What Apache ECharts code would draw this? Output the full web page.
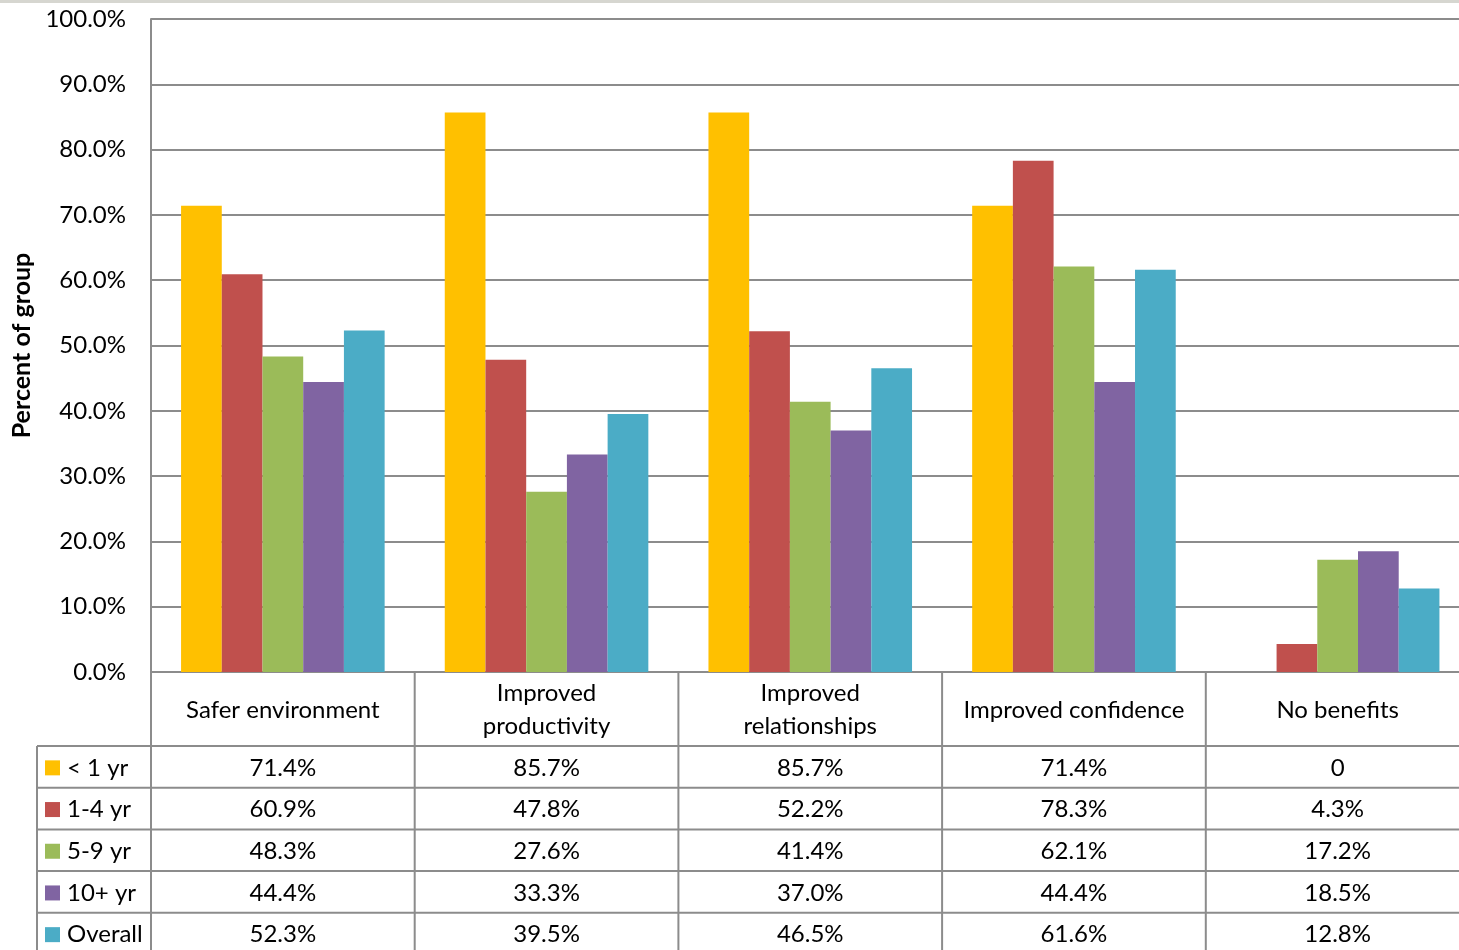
<!DOCTYPE html>
<html>
<head>
<meta charset="utf-8">
<script src="https://cdn.jsdelivr.net/npm/echarts@6/dist/echarts.min.js"></script>
<style>
html,body{margin:0;padding:0;overflow:hidden;background:#fff;}
#c{width:1470px;height:950px;}
</style>
</head>
<body>
<div id="c"></div>
<script>
var categories = ['Safer environment', 'Improved\nproductivity', 'Improved\nrelationships', 'Improved confidence', 'No benefits'];
var seriesNames = ['< 1 yr', '1-4 yr', '5-9 yr', '10+ yr', 'Overall'];
var lt1 = [71.4, 85.7, 85.7, 71.4, 0];
var y1to4 = [60.9, 47.8, 52.2, 78.3, 4.3];
var y5to9 = [48.3, 27.6, 41.4, 62.1, 17.2];
var y10p = [44.4, 33.3, 37.0, 44.4, 18.5];
var overall = [52.3, 39.5, 46.5, 61.6, 12.8];
var tableLabels = [
  ['71.4%', '85.7%', '85.7%', '71.4%', '0'],
  ['60.9%', '47.8%', '52.2%', '78.3%', '4.3%'],
  ['48.3%', '27.6%', '41.4%', '62.1%', '17.2%'],
  ['44.4%', '33.3%', '37.0%', '44.4%', '18.5%'],
  ['52.3%', '39.5%', '46.5%', '61.6%', '12.8%']
];
var colors = ['#FFC000', '#C0504D', '#9BBB59', '#8064A2', '#4BACC6'];
var allData = [lt1, y1to4, y5to9, y10p, overall];

var FONT = 'Lato';
var FS = 24;
var LINE = '#8c8c8c';
var chart = echarts.init(document.getElementById('c'), null, {renderer: 'canvas'});

var gridTop = 19, gridLeft = 151, gridH = 653, gridW = 1318.5;
var option = {
  animation: false,
  color: colors,
  textStyle: {fontFamily: FONT},
  grid: {left: gridLeft, top: gridTop, width: gridW, height: gridH, containLabel: false, outerBoundsMode: 'none'},
  xAxis: {
    type: 'category',
    data: categories,
    axisLine: {show: true, lineStyle: {color: LINE, width: 2}},
    axisTick: {show: false},
    axisLabel: {show: false}
  },
  yAxis: {
    type: 'value',
    min: 0, max: 100, interval: 10,
    name: 'Percent of group',
    nameLocation: 'middle',
    nameGap: 115,
    nameRotate: 90,
    nameTextStyle: {fontFamily: FONT, fontSize: 25, fontWeight: 'bold', color: '#000'},
    axisLine: {show: true, lineStyle: {color: LINE, width: 2}},
    axisTick: {show: false},
    axisLabel: {
      fontFamily: FONT, fontSize: FS, color: '#000', margin: 25,
      formatter: function (v) { return v.toFixed(1) + '%'; }
    },
    splitLine: {show: true, lineStyle: {color: LINE, width: 2}}
  },
  series: seriesNames.map(function (n, i) {
    return {
      name: n, type: 'bar', data: allData[i],
      barGap: '0%', barCategoryGap: '22.8%',
      itemStyle: {color: colors[i]}
    };
  })
};
chart.setOption(option);

function buildTable() {
  var g = [];
  var c0 = chart.convertToPixel({xAxisIndex: 0}, 0);
  var c1 = chart.convertToPixel({xAxisIndex: 0}, 1);
  var band = c1 - c0;
  var axisY = chart.convertToPixel({yAxisIndex: 0}, 0);
  var headerBottom = 746;
  var rowH = 41.7;
  var legendLeft = 37;
  var rightEdge = 1470;
  var bottom = 960;
  g.push({type: 'rect', shape: {x: 0, y: 0, width: rightEdge, height: 3}, style: {fill: '#d6d6d0'}, z: 50});
  for (var i = 0; i <= categories.length; i++) {
    var x = c0 - band / 2 + i * band;
    g.push({type: 'line', shape: {x1: x, y1: axisY, x2: x, y2: bottom}, style: {stroke: LINE, lineWidth: 2}, z: 10});
  }
  g.push({type: 'line', shape: {x1: legendLeft, y1: headerBottom, x2: legendLeft, y2: bottom}, style: {stroke: LINE, lineWidth: 2}, z: 10});
  for (var r = 0; r <= seriesNames.length; r++) {
    var y = headerBottom + r * rowH;
    g.push({type: 'line', shape: {x1: legendLeft, y1: y, x2: rightEdge, y2: y}, style: {stroke: LINE, lineWidth: 2}, z: 10});
  }
  for (var k = 0; k < categories.length; k++) {
    var cx = c0 + k * band;
    g.push({type: 'text', x: cx, y: (axisY + headerBottom) / 2 + 1,
      style: {text: categories[k], fontFamily: FONT, fontSize: FS, fill: '#000', align: 'center', verticalAlign: 'middle', lineHeight: 33}, z: 20});
  }
  for (var s = 0; s < seriesNames.length; s++) {
    var cy = headerBottom + s * rowH + rowH / 2 + 1;
    g.push({type: 'rect', shape: {x: 45, y: cy - 7.5, width: 15, height: 15}, style: {fill: colors[s]}, z: 20});
    g.push({type: 'text', x: 67, y: cy, style: {text: seriesNames[s], fontFamily: FONT, fontSize: FS, fill: '#000', align: 'left', verticalAlign: 'middle'}, z: 20});
    for (var k2 = 0; k2 < categories.length; k2++) {
      g.push({type: 'text', x: c0 + k2 * band, y: cy,
        style: {text: tableLabels[s][k2], fontFamily: FONT, fontSize: FS, fill: '#000', align: 'center', verticalAlign: 'middle'}, z: 20});
    }
  }
  chart.setOption({graphic: {elements: g}});
}
buildTable();
</script>
</body>
</html>
